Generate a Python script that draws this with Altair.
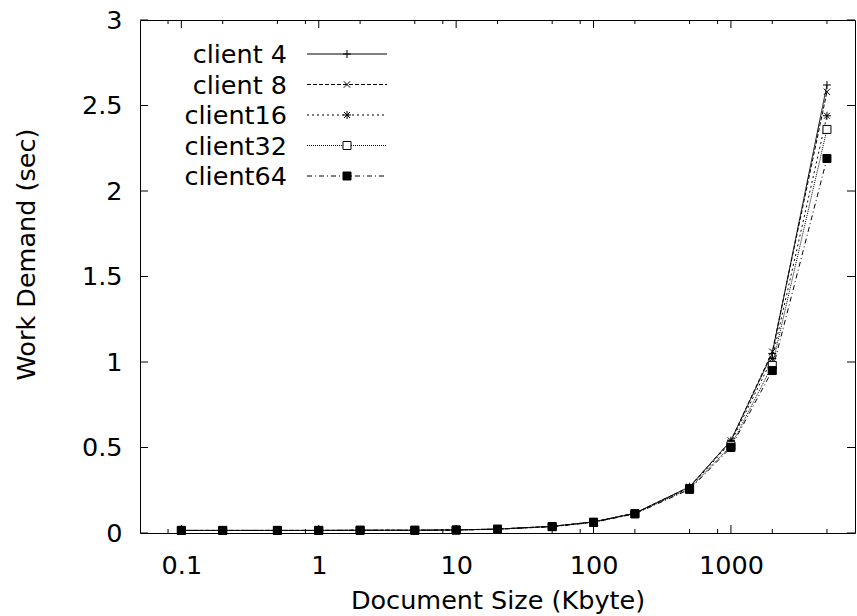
import altair as alt
import pandas as pd

# ---- data ----
sizes = [0.1, 0.2, 0.5, 1, 2, 5, 10, 20, 50, 100, 200, 500, 1000, 2000, 5000]
series = ["client 4", "client 8", "client16", "client32", "client64"]
client4 = [0.015, 0.015, 0.015, 0.015, 0.016, 0.016, 0.018, 0.023, 0.039, 0.065, 0.116, 0.270, 0.540, 1.050, 2.620]
client8 = [0.015, 0.015, 0.015, 0.015, 0.016, 0.016, 0.018, 0.023, 0.039, 0.065, 0.116, 0.270, 0.540, 1.060, 2.580]
client16 = [0.015, 0.015, 0.015, 0.015, 0.016, 0.016, 0.018, 0.023, 0.038, 0.064, 0.115, 0.265, 0.530, 1.020, 2.440]
client32 = [0.015, 0.015, 0.015, 0.015, 0.016, 0.016, 0.018, 0.022, 0.038, 0.063, 0.113, 0.260, 0.510, 0.980, 2.360]
client64 = [0.015, 0.015, 0.015, 0.015, 0.016, 0.016, 0.017, 0.022, 0.037, 0.062, 0.112, 0.255, 0.500, 0.950, 2.190]
values = [client4, client8, client16, client32, client64]

x_major = [0.1, 1, 10, 100, 1000]
x_minor = [0.08, 0.2, 0.5, 0.8, 2, 5, 8, 20, 50, 80, 200, 500, 800, 2000, 5000]
y_ticks = [0, 0.5, 1, 1.5, 2, 2.5, 3]

dashes = [[1, 0], [4, 2], [2, 3], [1, 1], [5, 3, 1, 3]]
shapes = [
    "M-1,0L1,0M0,-1L0,1",
    "M-0.8,-0.8L0.8,0.8M-0.8,0.8L0.8,-0.8",
    "M-1,0L1,0M0,-1L0,1M-0.75,-0.75L0.75,0.75M-0.75,0.75L0.75,-0.75",
    "square",
    "square",
]
fills = ["transparent", "transparent", "transparent", "white", "black"]

FONT = "DejaVu Sans"
FS = 25.5
W, H = 715, 513

rows = []
for s, ys in zip(series, values):
    for xv, yv in zip(sizes, ys):
        rows.append({"series": s, "size": xv, "demand": yv})
df = pd.DataFrame(rows)
leg = pd.DataFrame({"series": series, "i": list(range(len(series)))})

dash_scale = alt.Scale(domain=series, range=dashes)
shape_scale = alt.Scale(domain=series, range=shapes)
fill_scale = alt.Scale(domain=series, range=fills)

xscale = alt.Scale(type="log", domain=[0.05, 8000])
yscale = alt.Scale(domain=[0, 3], nice=False, zero=False)

XTITLE = "Document Size (Kbyte)"
YTITLE = "Work Demand (sec)"
xaxis = alt.Axis(values=x_major, format="~g", ticks=False, domain=False, grid=False,
                 labelPadding=40, labelBaseline="alphabetic", labelFlush=False,
                 title=XTITLE, titleX=357.5, titleY=67,
                 titleBaseline="middle", titleAlign="center")
yaxis = alt.Axis(values=y_ticks, format="~g", ticks=False, domain=False, grid=False,
                 labelPadding=18, labelFlush=False,
                 title=YTITLE, titleX=-114, titleY=234,
                 titleAngle=-90, titleBaseline="middle", titleAlign="center")


def X(field):
    return alt.X(field, scale=xscale, axis=xaxis, title=XTITLE)


def Y(field):
    return alt.Y(field, scale=yscale, axis=yaxis, title=YTITLE)


base = alt.Chart(df)

lines = base.mark_line(color="black", strokeWidth=1, clip=True).encode(
    x=X("size:Q"),
    y=Y("demand:Q"),
    strokeDash=alt.StrokeDash("series:N", scale=dash_scale, legend=None),
    detail="series:N",
)

points = base.mark_point(filled=True, stroke="black", strokeWidth=1, size=64, opacity=1).encode(
    x=X("size:Q"),
    y=Y("demand:Q"),
    shape=alt.Shape("series:N", scale=shape_scale, legend=None),
    fill=alt.Fill("series:N", scale=fill_scale, legend=None),
)

# inward ticks (gnuplot style, mirrored)
xmaj = alt.Chart(pd.DataFrame({"v": x_major}))
xmin = alt.Chart(pd.DataFrame({"v": x_minor}))
ytk = alt.Chart(pd.DataFrame({"v": y_ticks}))
tick_layers = []
for c, ln in ((xmaj, 8), (xmin, 4)):
    tick_layers.append(c.mark_rule(color="black", strokeWidth=1).encode(
        x=X("v:Q"), y=alt.value(H), y2=alt.value(H - ln)))
    tick_layers.append(c.mark_rule(color="black", strokeWidth=1).encode(
        x=X("v:Q"), y=alt.value(0), y2=alt.value(ln)))
tick_layers.append(ytk.mark_rule(color="black", strokeWidth=1).encode(
    y=Y("v:Q"), x=alt.value(0), x2=alt.value(8)))
tick_layers.append(ytk.mark_rule(color="black", strokeWidth=1).encode(
    y=Y("v:Q"), x=alt.value(W), x2=alt.value(W - 8)))

# legend (gnuplot style: label left of sample)
lg = alt.Chart(leg).transform_calculate(ly="34 + datum.i * 30.5")
leg_lines = lg.mark_rule(color="black", strokeWidth=1).encode(
    x=alt.value(167), x2=alt.value(247),
    y=alt.Y("ly:Q", scale=None),
    strokeDash=alt.StrokeDash("series:N", scale=dash_scale, legend=None),
)
leg_pts = lg.mark_point(filled=True, stroke="black", strokeWidth=1, size=64, opacity=1).encode(
    x=alt.value(207),
    y=alt.Y("ly:Q", scale=None),
    shape=alt.Shape("series:N", scale=shape_scale, legend=None),
    fill=alt.Fill("series:N", scale=fill_scale, legend=None),
)
leg_text = lg.mark_text(align="right", baseline="alphabetic", dy=9, font=FONT,
                        fontSize=FS, color="black").encode(
    x=alt.value(147),
    y=alt.Y("ly:Q", scale=None),
    text="series:N",
)

chart = alt.layer(lines, points, *tick_layers, leg_lines, leg_pts, leg_text).properties(
    width=W, height=H,
    autosize=alt.AutoSizeParams(type="none"),
    padding={"left": 140, "top": 20, "right": 2, "bottom": 83},
    background="white",
).configure_view(stroke="black", strokeWidth=1).configure_axis(
    labelFont=FONT, labelFontSize=FS, labelColor="black",
    titleFont=FONT, titleFontSize=FS, titleFontWeight="normal", titleColor="black",
)

chart.save("out.html", embed_options={"renderer": "svg", "actions": False})
